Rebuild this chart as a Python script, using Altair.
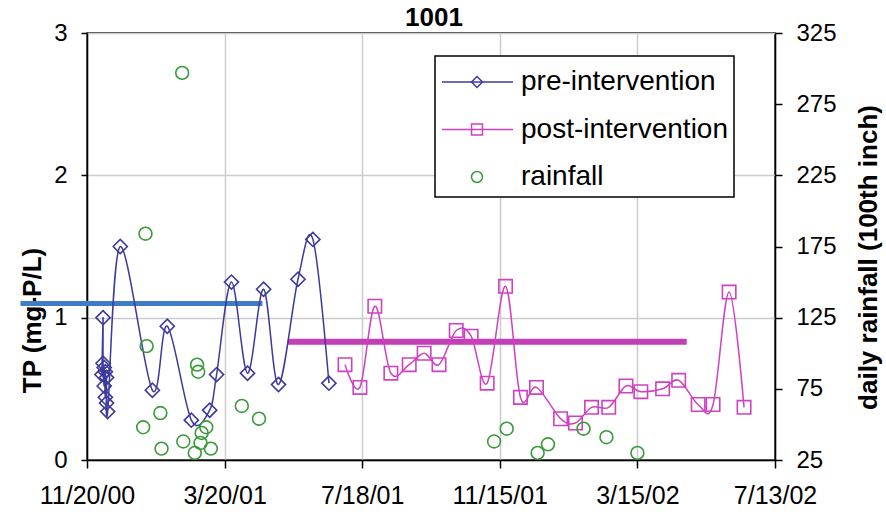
import altair as alt
import pandas as pd

FONT = "Liberation Sans"

# ---------------- data ----------------
pre_dates = ["2000/12/03", "2000/12/04", "2000/12/04", "2000/12/05", "2000/12/05",
             "2000/12/06", "2000/12/06", "2000/12/07", "2000/12/07", "2000/12/08",
             "2000/12/19", "2001/01/16", "2001/01/29", "2001/02/19", "2001/03/07",
             "2001/03/13", "2001/03/26", "2001/04/09", "2001/04/23", "2001/05/06",
             "2001/05/23", "2001/06/05", "2001/06/19"]
pre_tp = [0.60, 1.00, 0.68, 0.52, 0.65, 0.44, 0.62, 0.40, 0.58, 0.34,
          1.50, 0.49, 0.94, 0.28, 0.35, 0.60, 1.25, 0.61, 1.20, 0.53,
          1.27, 1.55, 0.54]

post_dates = ["2001/07/03", "2001/07/16", "2001/07/29", "2001/08/12", "2001/08/28",
              "2001/09/10", "2001/09/23", "2001/10/08", "2001/10/21", "2001/11/04",
              "2001/11/20", "2001/12/03", "2001/12/17", "2002/01/07", "2002/01/20",
              "2002/02/03", "2002/02/18", "2002/03/05", "2002/03/18", "2002/04/06",
              "2002/04/20", "2002/05/07", "2002/05/20", "2002/06/03", "2002/06/16"]
post_tp = [0.67, 0.51, 1.08, 0.61, 0.67, 0.75, 0.67, 0.91, 0.87, 0.54,
           1.22, 0.44, 0.51, 0.29, 0.26, 0.37, 0.37, 0.52, 0.48, 0.50,
           0.56, 0.39, 0.39, 1.18, 0.37]

rain_dates = ["2001/01/08", "2001/01/10", "2001/01/11", "2001/01/23", "2001/01/24",
              "2001/02/11", "2001/02/12", "2001/02/22", "2001/02/24", "2001/02/25",
              "2001/02/27", "2001/02/28", "2001/03/04", "2001/03/08", "2001/04/04",
              "2001/04/19", "2001/11/10", "2001/11/21", "2001/12/18", "2001/12/27",
              "2002/01/27", "2002/02/16", "2002/03/15"]
rain_vals = [48, 184, 105, 58, 33, 297, 38, 30, 92, 87, 37, 44, 48, 33, 63,
             54, 38, 47, 30, 36, 47, 41, 30]

mean_pre_dates = ["2000/09/23", "2001/04/22"]
mean_pre_tp = [1.10, 1.10]
mean_post_dates = ["2001/05/14", "2002/04/27"]
mean_post_tp = [0.83, 0.83]

leg_labels = ["pre-intervention", "post-intervention", "rainfall"]
tp_ticks = [0, 1, 2, 3]
rain_ticks = [25, 75, 125, 175, 225, 275, 325]

C_PRE = "#3d3a9c"
C_POST = "#d040c0"
C_RAIN = "#3a9a3a"
C_MEAN_PRE = "#3f7cc6"
C_MEAN_POST = "#c23fb6"

pre_df = pd.DataFrame({"date": pre_dates, "tp": pre_tp, "idx": list(range(len(pre_dates)))})
post_df = pd.DataFrame({"date": post_dates, "tp": post_tp, "idx": list(range(len(post_dates)))})
rain_df = pd.DataFrame({"date": rain_dates, "rain": rain_vals})
mpre_df = pd.DataFrame({"date": mean_pre_dates, "tp": mean_pre_tp})
mpost_df = pd.DataFrame({"date": mean_post_dates, "tp": mean_post_tp})
leg_df = pd.DataFrame({"label": leg_labels, "row": [0, 1, 2]})

# ---------------- encodings ----------------
def dt(y, m, d):
    return alt.DateTime(year=y, month=m, date=d)

x_enc = alt.X(
    "date:T",
    scale=alt.Scale(domain=[dt(2000, 11, 20), dt(2002, 7, 13)]),
    axis=alt.Axis(
        values=[dt(2000, 11, 20), dt(2001, 3, 20), dt(2001, 7, 18),
                dt(2001, 11, 15), dt(2002, 3, 15), dt(2002, 7, 13)],
        format="%-m/%d/%y", title=None, grid=True, tickSize=8, labelPadding=15,
        labelFlush=False, labelFontSize=25,
    ),
)

y_tp = alt.Y(
    "tp:Q",
    scale=alt.Scale(domain=[0, 3], nice=False),
    axis=alt.Axis(values=tp_ticks, title="TP (mg-P/L)", grid=True, tickSize=6,
                  labelPadding=14, titleAngle=270, titleX=-55, titleY=287,
                  titleBaseline="middle", titleAlign="center"),
)

y_rain = alt.Y(
    "rain:Q",
    scale=alt.Scale(domain=[25, 325], nice=False),
    axis=alt.Axis(orient="right", values=rain_ticks, title="daily rainfall (100th inch)",
                  grid=False, tickSize=7, labelPadding=14, titleAngle=270, titleX=93,
                  titleY=224, titleBaseline="middle", titleAlign="center"),
)

# ---------------- TP layers ----------------
pre_line = alt.Chart(pre_df).mark_line(color=C_PRE, strokeWidth=1.5, interpolate="cardinal").encode(
    x=x_enc, y=y_tp, order="idx:Q")
pre_pts = alt.Chart(pre_df).mark_point(shape="diamond", filled=False, color=C_PRE, size=200,
                                       strokeWidth=1.6, opacity=1).encode(x=x_enc, y=y_tp)
post_line = alt.Chart(post_df).mark_line(color=C_POST, strokeWidth=1.5, interpolate="cardinal").encode(
    x=x_enc, y=y_tp, order="idx:Q")
post_pts = alt.Chart(post_df).mark_point(shape="square", filled=False, color=C_POST, size=180,
                                         strokeWidth=1.6, opacity=1).encode(x=x_enc, y=y_tp)
mean_pre = alt.Chart(mpre_df).mark_line(color=C_MEAN_PRE, strokeWidth=5, clip=False).encode(
    x=x_enc, y=y_tp)
mean_post = alt.Chart(mpost_df).mark_line(color=C_MEAN_POST, strokeWidth=6, clip=False).encode(
    x=x_enc, y=y_tp)

tp_layer = alt.layer(mean_pre, mean_post, pre_line, pre_pts, post_line, post_pts)

# ---------------- rainfall ----------------
rain_layer = alt.Chart(rain_df).mark_point(shape="circle", filled=False, color=C_RAIN, size=165,
                                           strokeWidth=1.6, opacity=1).encode(x=x_enc, y=y_rain)

# ---------------- legend ----------------
ly = alt.Y("row:Q", scale=alt.Scale(domain=[0, 2], range=[49, 144]), axis=None)
lc = alt.Color("label:N", scale=alt.Scale(domain=leg_labels, range=[C_PRE, C_POST, C_RAIN]), legend=None)
ls = alt.Shape("label:N", scale=alt.Scale(domain=leg_labels, range=["diamond", "square", "circle"]),
               legend=None)

leg_box = alt.Chart(leg_df).transform_filter("datum.row == 0").mark_rect(
    fill="white", stroke="black", strokeWidth=1.5).encode(
    x=alt.value(348), x2=alt.value(647), y=alt.value(23), y2=alt.value(164))
leg_rules = alt.Chart(leg_df).transform_filter("datum.row < 2").mark_rule(strokeWidth=1.5).encode(
    x=alt.value(355), x2=alt.value(426), y=ly, color=lc)
leg_pts = alt.Chart(leg_df).mark_point(filled=False, size=120, strokeWidth=1.5, opacity=1).encode(
    x=alt.value(390), y=ly, color=lc, shape=ls)
leg_txt = alt.Chart(leg_df).mark_text(align="left", baseline="middle", font=FONT, fontSize=28,
                                      color="black").encode(x=alt.value(434), y=ly, text="label:N")
legend_layer = alt.layer(leg_box, leg_rules, leg_pts, leg_txt)

chart = alt.layer(tp_layer, rain_layer, legend_layer).resolve_scale(
    y="independent", color="independent", shape="independent"
).properties(
    width=688, height=427,
    background="white",
    autosize=alt.AutoSizeParams(type="none"),
    padding={"left": 87, "top": 33, "right": 111, "bottom": 55},
    title=alt.TitleParams("1001", font=FONT, fontSize=26, fontWeight="bold", color="black",
                          offset=0, dy=10, dx=3, frame="group", anchor="middle"),
).configure_view(
    stroke="black", strokeWidth=1.5
).configure_axis(
    labelFont=FONT, labelFontSize=24, labelColor="black",
    titleFont=FONT, titleFontSize=26, titleFontWeight="bold", titleColor="black",
    domainColor="black", domainWidth=1.5, tickColor="black", tickWidth=1.5,
    gridColor="#cccccc", gridWidth=1.5,
)

chart.save("out.html", embed_options={"renderer": "svg", "actions": False})
